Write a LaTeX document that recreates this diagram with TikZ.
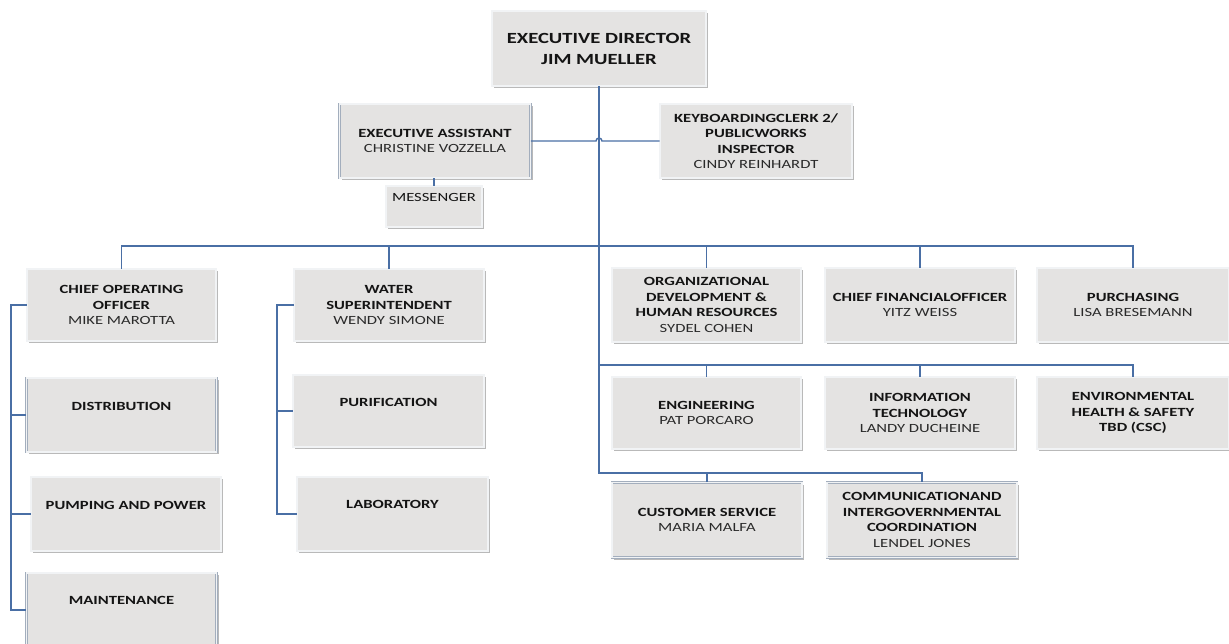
\documentclass[tikz,border=0pt]{standalone}
\usepackage{fontspec}
\setmainfont{Carlito}[FakeStretch=1.33]
\usetikzlibrary{shadows,calc}
\definecolor{boxfill}{HTML}{E4E3E2}
\definecolor{boxline}{HTML}{A3AEBD}
\definecolor{connblue}{HTML}{4A6FA5}
\definecolor{txt}{HTML}{141414}
\definecolor{nametxt}{HTML}{2A2A2A}
\tikzset{
  orgbox/.style={draw=boxline, double=white!85!boxline, double distance=1.3pt, line width=0.8pt,
    fill=boxfill, drop shadow={shadow xshift=2pt, shadow yshift=-2pt, fill=black!50, opacity=0.55},
    align=center, font=\fontsize{12.5}{15.5}\selectfont\bfseries, text=txt, inner sep=0pt,
    minimum width=190pt, minimum height=74pt},
  bigbox/.style={orgbox, font=\fontsize{15.5}{21}\selectfont\bfseries},
  conn/.style={draw=connblue, line width=1.4pt}
}
\newcommand{\who}[1]{{\mdseries\color{nametxt}#1}}
\begin{document}
\begin{tikzpicture}[x=1pt,y=-1pt]
\fill[white] (0,0) rectangle (1229,643);
\useasboundingbox (0,0) rectangle (1229,643);
% top
\node[bigbox, minimum width=214pt, minimum height=75pt] (ed) at (599,48.5) {EXECUTIVE DIRECTOR\\JIM MUELLER};
\node[orgbox, minimum width=191pt] (ea) at (435,141) {EXECUTIVE ASSISTANT\\\who{CHRISTINE VOZZELLA}};
\node[orgbox, minimum width=192pt] (kb) at (756,141) {KEYBOARDINGCLERK 2/\\PUBLICWORKS\\INSPECTOR\\\who{CINDY REINHARDT}};
\node[orgbox, minimum width=96pt, minimum height=41pt, font=\fontsize{12.5}{15.5}\selectfont\mdseries] (msg) at (434,206.5) {MESSENGER\\[2pt]~};
% left column
\node[orgbox, minimum width=189pt, minimum height=72pt] (coo) at (121.5,305) {CHIEF OPERATING\\OFFICER\\\who{MIKE MAROTTA}};
\node[orgbox] (dist) at (121.5,415) {DISTRIBUTION\\[2pt]~};
\node[orgbox] (pump) at (126,514) {PUMPING AND POWER\\[2pt]~};
\node[orgbox] (maint) at (121.5,610) {MAINTENANCE\\[4pt]~};
% water column
\node[orgbox, minimum height=72pt] (water) at (389,305) {WATER\\SUPERINTENDENT\\\who{WENDY SIMONE}};
\node[orgbox, minimum width=191pt, minimum height=72pt] (purif) at (388.5,411) {PURIFICATION\\[2pt]~};
\node[orgbox, minimum width=191pt] (lab) at (392.5,514) {LABORATORY\\[4pt]~};
% right rows
\node[orgbox, minimum width=189pt] (org) at (706.5,305) {ORGANIZATIONAL\\DEVELOPMENT \&\\HUMAN RESOURCES\\\who{SYDEL COHEN}};
\node[orgbox] (cfo) at (920,305) {CHIEF FINANCIALOFFICER\\\who{YITZ WEISS}};
\node[orgbox, minimum width=192pt] (purch) at (1133,305) {PURCHASING\\\who{LISA BRESEMANN}};
\node[orgbox, minimum width=189pt, minimum height=72pt] (eng) at (706.5,413) {ENGINEERING\\\who{PAT PORCARO}};
\node[orgbox, minimum height=72pt] (it) at (920,413) {INFORMATION\\TECHNOLOGY\\\who{LANDY DUCHEINE}};
\node[orgbox, minimum width=192pt, minimum height=72pt] (env) at (1133,413) {ENVIRONMENTAL\\HEALTH \& SAFETY\\TBD (CSC)};
\node[orgbox, minimum height=75pt] (cs) at (707,520) {CUSTOMER SERVICE\\\who{MARIA MALFA}};
\node[orgbox, minimum height=75pt] (comm) at (922,520) {COMMUNICATIONAND\\INTERGOVERNMENTAL\\COORDINATION\\\who{LENDEL JONES}};
% helper coordinates
\coordinate (b1) at (0,246);
\coordinate (b2) at (0,365);
\coordinate (b3) at (0,473);
\coordinate (ls) at (11,0);
\coordinate (ws) at (277,0);
% connectors
\draw[conn] (ed.south) -- (ed.south |- b3) -| (comm.north);
\draw[conn] (cs.north) -- (cs.north |- b3);
\draw[conn] (coo.north) |- (purch.north |- b1) -- (purch.north);
\foreach \n in {water,org,cfo} \draw[conn] (\n.north) -- (\n.north |- b1);
\draw[conn] (ed.south |- b2) -| (env.north);
\foreach \n in {eng,it} \draw[conn] (\n.north) -- (\n.north |- b2);
\draw[conn] (ea.east) -- ($(ea.east -| ed.south)+(-3,0)$) arc[start angle=180, end angle=0, radius=3pt] -- (kb.west);
\draw[conn] (ea.south -| msg.north) -- (msg.north);
\draw[conn] (coo.west) -- (coo.west -| ls) |- (maint.west);
\foreach \n in {dist,pump} \draw[conn] (\n.west) -- (\n.west -| ls);
\draw[conn] (water.west) -- (water.west -| ws) |- (lab.west);
\draw[conn] (purif.west) -- (purif.west -| ws);
\end{tikzpicture}
\end{document}
